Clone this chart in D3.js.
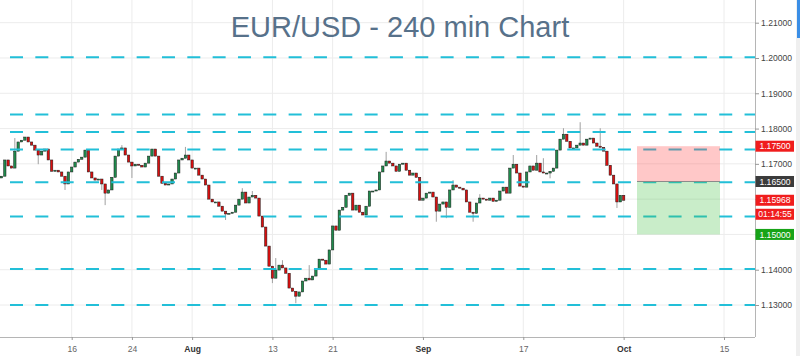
<!DOCTYPE html>
<html><head><meta charset="utf-8">
<script src="https://cdn.jsdelivr.net/npm/d3@7"></script>
<style>html,body{margin:0;padding:0;background:#fff;} svg{display:block;}</style>
</head><body><svg id="c" width="800" height="356"></svg>
<script>
const title = "EUR/USD - 240 min Chart";
// trading-day index: 0 = Mon Jul 16
const firstDay = -7;
const barsPerDay = 3;
const firstOpen = 1.1660;
const closes = [
1.1665,1.1711,1.1694,1.1688,1.1736,1.1762,1.1767,1.1776,1.1762,1.1753,
1.1739,1.1725,1.1736,1.1742,1.1711,1.1679,1.1682,1.1677,1.1665,1.1643,
1.1677,1.1691,1.1705,1.1713,1.1719,1.1739,1.1677,1.1660,1.1654,1.1657,
1.1643,1.1617,1.1626,1.1662,1.1722,1.1742,1.1745,1.1725,1.1705,1.1694,
1.1699,1.1696,1.1691,1.1702,1.1722,1.1742,1.1722,1.1665,1.1645,1.1640,
1.1643,1.1657,1.1674,1.1711,1.1716,1.1725,1.1711,1.1688,1.1688,1.1668,
1.1657,1.1640,1.1600,1.1592,1.1592,1.1580,1.1566,1.1558,1.1560,1.1563,
1.1583,1.1600,1.1620,1.1589,1.1606,1.1611,1.1603,1.1552,1.1521,1.1467,
1.1410,1.1376,1.1399,1.1413,1.1405,1.1390,1.1348,1.1339,1.1325,1.1337,
1.1368,1.1376,1.1371,1.1382,1.1402,1.1430,1.1427,1.1416,1.1456,1.1524,
1.1512,1.1569,1.1577,1.1611,1.1617,1.1569,1.1583,1.1563,1.1555,1.1580,
1.1623,1.1623,1.1626,1.1677,1.1694,1.1708,1.1702,1.1694,1.1679,1.1699,
1.1702,1.1682,1.1668,1.1674,1.1662,1.1597,1.1603,1.1617,1.1620,1.1606,
1.1566,1.1586,1.1592,1.1577,1.1626,1.1640,1.1634,1.1631,1.1626,1.1592,
1.1563,1.1560,1.1589,1.1603,1.1600,1.1597,1.1603,1.1594,1.1597,1.1623,
1.1634,1.1617,1.1688,1.1699,1.1674,1.1637,1.1634,1.1677,1.1694,1.1682,
1.1702,1.1677,1.1674,1.1674,1.1679,1.1688,1.1739,1.1770,1.1784,1.1764,
1.1745,1.1745,1.1753,1.1759,1.1753,1.1770,1.1773,1.1759,1.1750,1.1747,
1.1736,1.1696,1.1668,1.1643,1.1592,1.1611,1.15968
];
const wickHighs = {4:1.1773,36:1.1753,55:1.1748,72:1.1631,75:1.1623,82:1.1433,84:1.1427,92:1.1413,
  115:1.1734,135:1.1654,143:1.1614,153:1.1725,160:1.1725,162:1.1716,168:1.1801,173:1.1818,179:1.1801};
const wickLows = {11:1.1699,19:1.1626,30:1.1626,31:1.1583,39:1.1660,67:1.1541,81:1.1362,88:1.1305,
  130:1.1536,133:1.1546,141:1.1536,164:1.1659,184:1.1575};

const xTickDays = [0,6,12,20,26,35,45,55,65];
const xTickLabels = ["16","24","Aug","13","21","Sep","17","Oct","15"];
const monthLabels = ["Aug","Sep","Oct"];
const yTicks = [1.13,1.14,1.15,1.16,1.17,1.18,1.19,1.20,1.21];
const levels = [1.2002,1.1840,1.1790,1.1741,1.1648,1.1551,1.1402,1.1300];
const positionDays = [56.33, 64.6];
const stopPrice = 1.175, entryPrice = 1.165, targetPrice = 1.15;
const lastPrice = 1.15968;
const countdown = "01:14:55";
const tagValues = [1.175, 1.165, 1.15968, 1.15];
const tagColors = ["#f01d1d", "#3b3b3b", "#f01d1d", "#17a317"];

const W = 800, H = 356, plotR = 755, plotB = 337;
const svg = d3.select("#c");
const x = d3.scaleLinear().domain([0, 65]).range([71.7, 724]);
const y = d3.scaleLinear().domain([1.13, 1.21]).range([305, 22.7]);

svg.append("rect").attr("width", W).attr("height", H).attr("fill", "#fff");
svg.append("defs").append("clipPath").attr("id", "plot")
  .append("rect").attr("x", 0).attr("y", 0).attr("width", plotR).attr("height", plotB);

const g = svg.append("g").attr("clip-path", "url(#plot)");
// grid
g.selectAll(".vg").data(xTickDays).join("line")
  .attr("x1", d => x(d)).attr("x2", d => x(d)).attr("y1", 0).attr("y2", plotB)
  .attr("stroke", "#ececec").attr("stroke-width", 1);
g.selectAll(".hg").data(yTicks).join("line")
  .attr("x1", 0).attr("x2", plotR).attr("y1", d => y(d)).attr("y2", d => y(d))
  .attr("stroke", "#ececec").attr("stroke-width", 1);

svg.append("text").attr("x", 400).attr("y", 37).attr("text-anchor", "middle")
  .attr("font-family", "Liberation Sans, Arial, sans-serif").attr("font-size", 29)
  .attr("fill", "#57718a").text(title);

// candles
const candles = closes.map((c, i) => {
  const o = i ? closes[i - 1] : firstOpen;
  return {t: firstDay + i / barsPerDay, o, c,
    h: Math.max(o, c, wickHighs[i] ?? -Infinity),
    l: Math.min(o, c, wickLows[i] ?? Infinity)};
});
const cg = g.append("g");
cg.selectAll(".wick").data(candles).join("line")
  .attr("x1", d => x(d.t)).attr("x2", d => x(d.t))
  .attr("y1", d => y(d.h)).attr("y2", d => y(d.l))
  .attr("stroke", "#a0a0a0").attr("stroke-width", 1);
cg.selectAll(".body").data(candles).join("rect")
  .attr("x", d => x(d.t) - 1.2).attr("width", 2.4)
  .attr("y", d => y(Math.max(d.o, d.c)))
  .attr("height", d => Math.max(1, Math.abs(y(d.o) - y(d.c))))
  .attr("fill", d => d.c >= d.o ? "#1f8a4c" : "#d80f0f")
  .attr("stroke", "#1b1b1b").attr("stroke-width", 0.5);

// dashed levels
g.selectAll(".lvl").data(levels).join("line")
  .attr("x1", 0).attr("x2", plotR).attr("y1", d => y(d)).attr("y2", d => y(d))
  .attr("stroke", "#22bfd8").attr("stroke-width", 2)
  .attr("stroke-dasharray", "13,12.33").attr("stroke-dashoffset", 15.33);

// position box
const px0 = x(positionDays[0]), px1 = x(positionDays[1]);
g.append("rect").attr("x", px0).attr("width", px1 - px0)
  .attr("y", y(stopPrice)).attr("height", y(entryPrice) - y(stopPrice))
  .attr("fill", "#ff4a4a").attr("fill-opacity", 0.3);
g.append("rect").attr("x", px0).attr("width", px1 - px0)
  .attr("y", y(entryPrice)).attr("height", y(targetPrice) - y(entryPrice))
  .attr("fill", "#4cc24c").attr("fill-opacity", 0.3);
g.append("line").attr("x1", px0).attr("x2", px1)
  .attr("y1", y(entryPrice)).attr("y2", y(entryPrice))
  .attr("stroke", "#8a8a8a").attr("stroke-width", 1);

// frame lines
svg.append("line").attr("x1", plotR + 0.5).attr("x2", plotR + 0.5).attr("y1", 0).attr("y2", plotB)
  .attr("stroke", "#b5b5b5");
svg.append("line").attr("x1", 0).attr("x2", plotR).attr("y1", plotB + 0.5).attr("y2", plotB + 0.5)
  .attr("stroke", "#b5b5b5");

// price tags (positions)
const tags = tagValues.map((v, i) => ({y: y(v), text: d3.format(".5f")(v), color: tagColors[i]}));
tags.push({y: y(lastPrice) + 14, text: countdown, color: tagColors[2]});

// axes
const font = "Liberation Sans, Arial, sans-serif";
const ya = svg.append("g").attr("transform", `translate(${plotR},0)`)
  .call(d3.axisRight(y).tickValues(yTicks).tickFormat(d3.format(".5f")).tickSize(4).tickPadding(2));
ya.select(".domain").remove();
ya.selectAll("line").attr("stroke", "#999");
ya.selectAll("text").attr("font-family", font).attr("font-size", 8.6).attr("fill", "#444");
// tick labels hidden behind a price tag are not shown (as in the chart)
ya.selectAll(".tick").filter(d => tags.some(t => Math.abs(t.y - y(d)) < 10)).select("text").remove();

const xa = svg.append("g").attr("transform", `translate(0,${plotB})`)
  .call(d3.axisBottom(x).tickValues(xTickDays).tickFormat((d, i) => xTickLabels[i]).tickSize(3).tickPadding(6));
xa.select(".domain").remove();
xa.selectAll("line").attr("stroke", "#999");
xa.selectAll("text").attr("font-family", font).attr("font-size", 8.6)
  .attr("fill", (d, i) => monthLabels.includes(xTickLabels[i]) ? "#333" : "#666")
  .attr("font-weight", (d, i) => monthLabels.includes(xTickLabels[i]) ? "bold" : "normal");

const tg = svg.append("g");
tg.selectAll("rect").data(tags).join("rect")
  .attr("x", plotR + 0.5).attr("width", 38.5).attr("y", d => d.y - 5.5).attr("height", 11)
  .attr("fill", d => d.color);
tg.selectAll("text").data(tags).join("text")
  .attr("x", plotR + 20).attr("y", d => d.y + 3.1).attr("text-anchor", "middle")
  .attr("font-family", font).attr("font-size", 8.6).attr("fill", "#fff").text(d => d.text);

// right scrollbar strip
svg.append("rect").attr("x", 796).attr("y", 0).attr("width", 4).attr("height", H).attr("fill", "#efefef");
svg.append("rect").attr("x", 797).attr("y", 0).attr("width", 3).attr("height", 38).attr("fill", "#3a8ee6");
</script></body></html>
